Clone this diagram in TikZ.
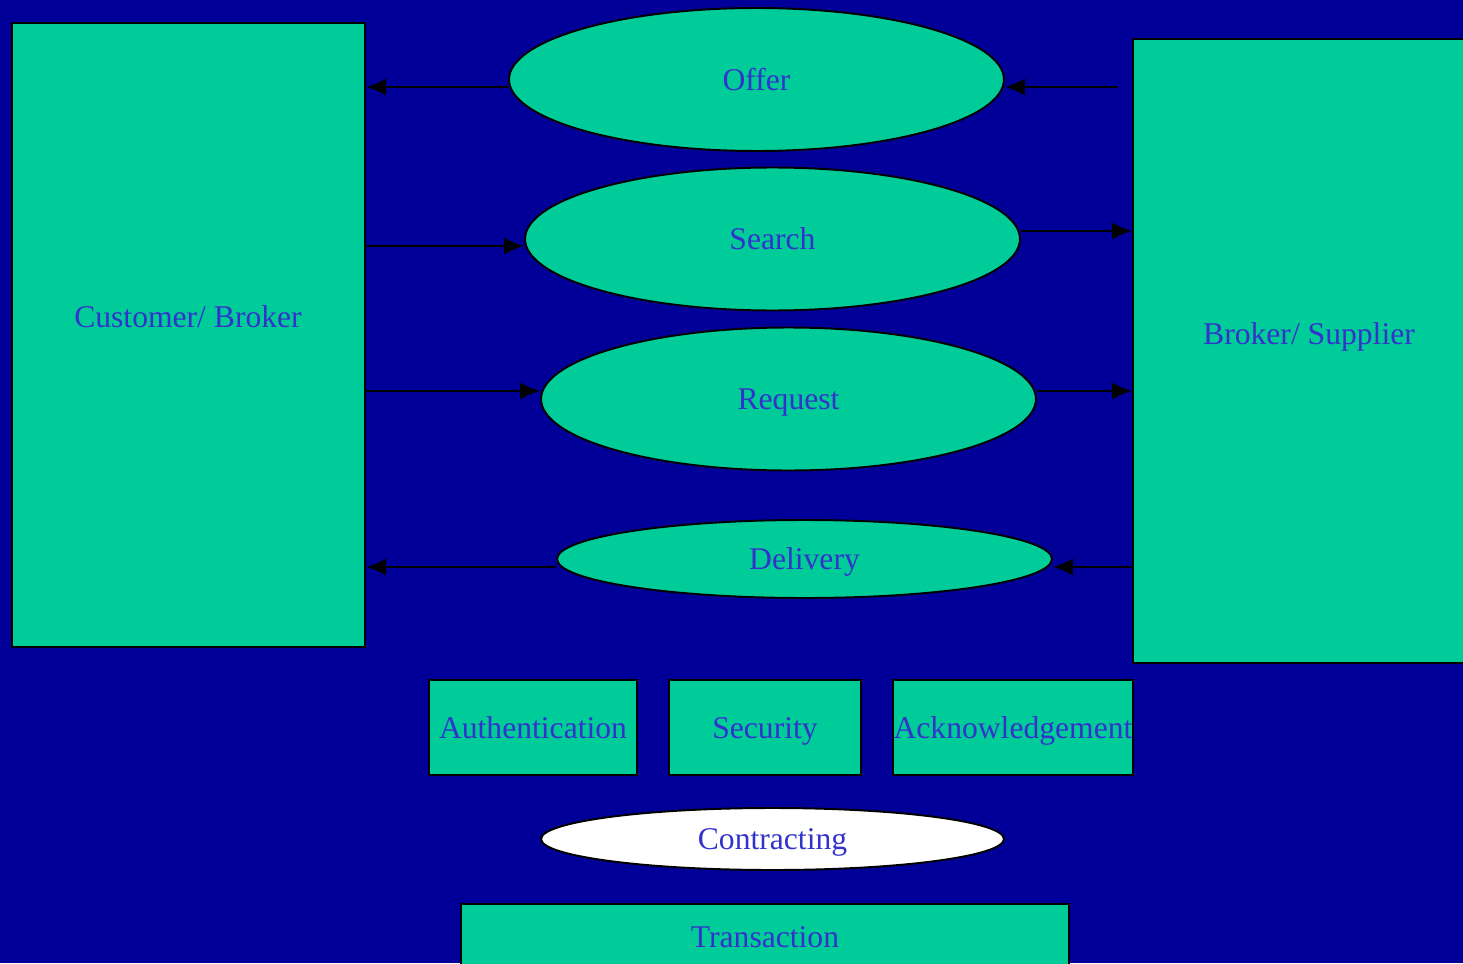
\documentclass[tikz,border=0pt]{standalone}
\usepackage{fontspec}
\setmainfont{Liberation Serif}
\usetikzlibrary{shapes.geometric,arrows.meta}
\definecolor{bgblue}{RGB}{0,0,153}
\definecolor{boxgreen}{RGB}{0,204,153}
\definecolor{txtblue}{RGB}{51,51,204}
\tikzset{
    box/.style={draw=black, line width=1.1pt, fill=boxgreen, inner sep=0pt},
    oval/.style={box, ellipse, minimum width=9.9cm, minimum height=2.86cm},
    txt/.style={text=txtblue, font=\fontsize{18}{22}\selectfont, text height=1.2em, text depth=0em},
    arr/.style={line width=1.1pt, -{Latex[length=4mm,width=3.4mm]}}
}
\begin{document}
\begin{tikzpicture}[x=0.02cm, y=-0.02cm]
    % Background
    \fill[bgblue] (0,0) rectangle (1463,963);
    \useasboundingbox (0,0) rectangle (1463,963);

    % Parties
    \node[box, minimum width=7.06cm, minimum height=12.48cm] (cust) at (188.5,335) {};
    \node[txt] (custtxt) at (188,317) {Customer/ Broker};
    \node[box, minimum width=7.04cm, minimum height=12.48cm] (supp) at (1309,351) {};
    \node[txt] (supptxt) at (1309,334) {Broker/ Supplier};

    % Messages
    \node[oval, txt] (offer) at (756.5,79.5) {Offer};
    \node[oval, txt] (search) at (772.5,239) {Search};
    \node[oval, txt] (request) at (788.5,399) {Request};
    \node[oval, txt, minimum height=1.56cm] (delivery) at (804.5,559) {Delivery};

    % Services
    \node[box, txt, minimum width=4.16cm, minimum height=1.9cm] (auth) at (533,727.5) {Authentication};
    \node[box, txt, minimum width=3.84cm, minimum height=1.9cm] (sec) at (765,727.5) {Security};
    \node[box, txt, minimum width=4.8cm, minimum height=1.9cm] (ack) at (1013,727.5) {Acknowledgement};
    \node[box, txt, ellipse, fill=white, minimum width=9.26cm, minimum height=1.24cm] (contr) at (772.5,839) {Contracting};
    \node[box, txt, minimum width=12.16cm, minimum height=1.32cm] (trans) at (765,937) {Transaction};

    % Arrows
    \coordinate (offin) at (1118,87);
    \draw[arr] (offer.west |- 0,87) -- (cust.east |- 0,87);
    \draw[arr] (offin) -- (offer.east |- 0,87);
    \draw[arr] (cust.east |- 0,246) -- (search.west |- 0,246);
    \draw[arr] (search.east |- 0,231) -- (supp.west |- 0,231);
    \draw[arr] (cust.east |- 0,391) -- (request.west |- 0,391);
    \draw[arr] (request.east |- 0,391) -- (supp.west |- 0,391);
    \draw[arr] (delivery.west |- 0,567) -- (cust.east |- 0,567);
    \draw[arr] (supp.west |- 0,567) -- (delivery.east |- 0,567);
\end{tikzpicture}
\end{document}
